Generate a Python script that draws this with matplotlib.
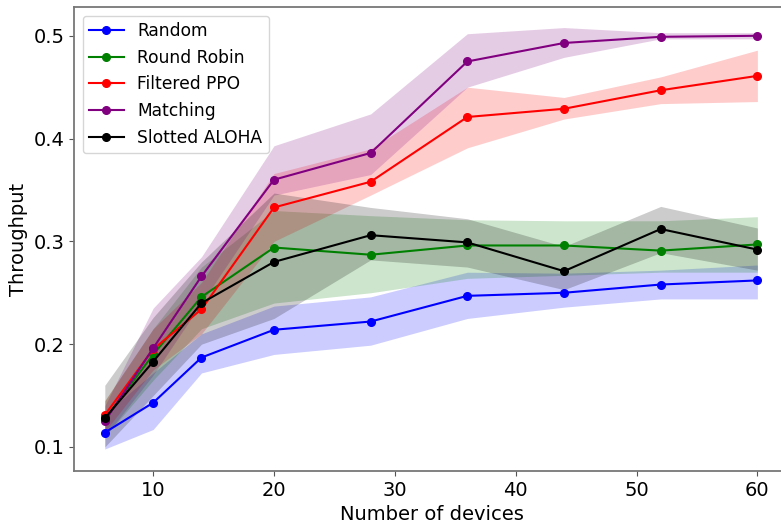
import matplotlib
matplotlib.use("Agg")
import matplotlib.pyplot as plt

devices = [6, 10, 14, 20, 28, 36, 44, 52, 60]

random_mean = [0.114, 0.143, 0.187, 0.214, 0.222, 0.247, 0.250, 0.258, 0.262]
random_lo = [0.098, 0.117, 0.172, 0.190, 0.199, 0.225, 0.236, 0.244, 0.244]
random_hi = [0.132, 0.172, 0.210, 0.237, 0.246, 0.270, 0.269, 0.272, 0.277]

rr_mean = [0.127, 0.190, 0.246, 0.294, 0.287, 0.296, 0.296, 0.291, 0.297]
rr_lo = [0.110, 0.165, 0.215, 0.240, 0.250, 0.264, 0.267, 0.270, 0.270]
rr_hi = [0.145, 0.215, 0.275, 0.330, 0.325, 0.321, 0.320, 0.320, 0.324]

ppo_mean = [0.131, 0.195, 0.234, 0.333, 0.358, 0.421, 0.429, 0.447, 0.461]
ppo_lo = [0.115, 0.175, 0.210, 0.300, 0.345, 0.391, 0.419, 0.434, 0.436]
ppo_hi = [0.145, 0.215, 0.260, 0.366, 0.390, 0.450, 0.440, 0.460, 0.486]

match_mean = [0.125, 0.196, 0.266, 0.360, 0.386, 0.475, 0.493, 0.499, 0.500]
match_lo = [0.110, 0.170, 0.240, 0.345, 0.365, 0.450, 0.479, 0.497, 0.497]
match_hi = [0.140, 0.235, 0.285, 0.393, 0.424, 0.502, 0.508, 0.503, 0.503]

aloha_mean = [0.128, 0.183, 0.240, 0.280, 0.306, 0.299, 0.271, 0.312, 0.292]
aloha_lo = [0.100, 0.150, 0.200, 0.225, 0.282, 0.275, 0.253, 0.289, 0.272]
aloha_hi = [0.160, 0.226, 0.280, 0.347, 0.333, 0.322, 0.295, 0.334, 0.313]

series = [
    ("Random", "blue", random_mean, random_lo, random_hi),
    ("Round Robin", "green", rr_mean, rr_lo, rr_hi),
    ("Filtered PPO", "red", ppo_mean, ppo_lo, ppo_hi),
    ("Matching", "purple", match_mean, match_lo, match_hi),
    ("Slotted ALOHA", "black", aloha_mean, aloha_lo, aloha_hi),
]

fig = plt.figure(figsize=(7.81, 5.23), dpi=100)
ax = fig.add_axes([74/781, 1 - 471/523, (790-74)/781, (471-7)/523])

for name, color, m, lo, hi in series:
    ax.fill_between(devices, lo, hi, color=color, alpha=0.2, linewidth=0)
    ax.plot(devices, m, color=color, marker="o", markersize=5.5, linewidth=1.5, label=name)

ax.set_xlim(3.45, 62.7)
ax.set_ylim(0.0766, 0.528)
ax.set_xticks([10, 20, 30, 40, 50, 60])
ax.set_yticks([0.1, 0.2, 0.3, 0.4, 0.5])
ax.tick_params(labelsize=14, color="#555555")
for s in ax.spines.values():
    s.set_color("#777777")
    s.set_linewidth(1.3)
ax.set_xlabel("Number of devices", fontsize=14)
ax.set_ylabel("Throughput", fontsize=14)
ax.legend(loc="upper left", fontsize=12.3)

fig.savefig("out.png", dpi=100)
